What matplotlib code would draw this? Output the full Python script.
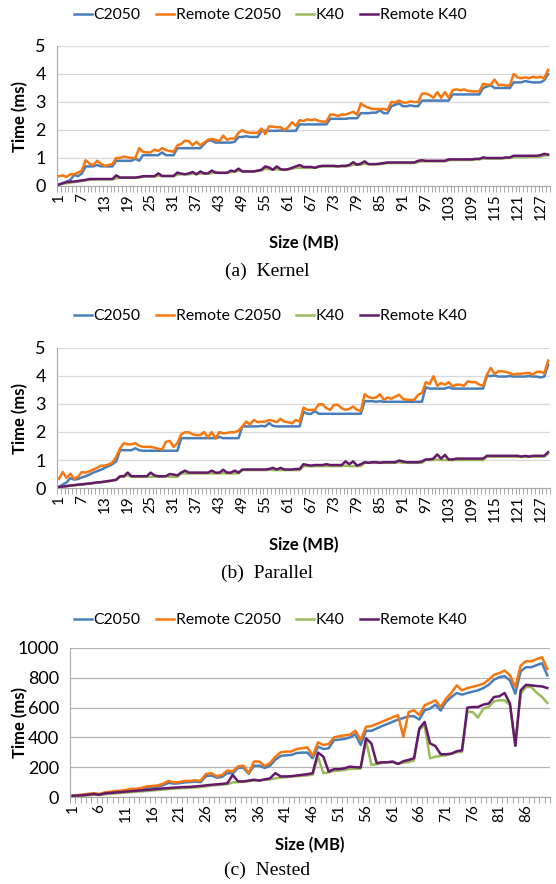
import matplotlib
matplotlib.use('Agg')
import matplotlib.pyplot as plt

plt.rcParams['font.family'] = ['Lato', 'DejaVu Sans']

series_names = ['C2050', 'Remote C2050', 'K40', 'Remote K40']
colors = ['#4A7EBB', '#F7770F', '#9BBB59', '#65196B']

# (a) Kernel, time in ms, sizes 1..129 MB
kernel_sizes = list(range(1, 130))
kernel_c2050 = [
    0.05, 0.1, 0.15, 0.22, 0.4, 0.35, 0.45,
    0.7, 0.7, 0.7, 0.75, 0.7, 0.7, 0.7, 0.7,
    0.9, 0.9, 0.9, 0.9, 0.9, 0.97, 0.9, 1.1,
    1.1, 1.1, 1.1, 1.1, 1.2, 1.1, 1.1, 1.1,
    1.35, 1.35, 1.35, 1.35, 1.35, 1.35, 1.35, 1.5,
    1.62, 1.62, 1.55, 1.55, 1.55, 1.55, 1.55, 1.58,
    1.75, 1.75, 1.78, 1.75, 1.75, 1.75, 1.97, 1.97,
    1.97, 1.97, 1.97, 1.98, 1.97, 1.97, 1.97, 1.97,
    2.2, 2.2, 2.2, 2.2, 2.2, 2.2, 2.2, 2.2,
    2.4, 2.4, 2.4, 2.4, 2.4, 2.42, 2.42, 2.42,
    2.6, 2.6, 2.6, 2.62, 2.62, 2.7, 2.6, 2.6,
    2.85, 2.9, 2.95, 2.85, 2.85, 2.88, 2.85, 2.85,
    3.05, 3.05, 3.05, 3.05, 3.05, 3.05, 3.05, 3.05,
    3.27, 3.27, 3.27, 3.27, 3.27, 3.27, 3.27, 3.27,
    3.5, 3.55, 3.6, 3.5, 3.5, 3.5, 3.5, 3.5,
    3.7, 3.7, 3.7, 3.75, 3.72, 3.7, 3.7, 3.7,
    3.78, 4.0]
kernel_remote_c2050 = [
    0.35, 0.38, 0.32, 0.42, 0.42, 0.48, 0.55,
    0.92, 0.8, 0.75, 0.9, 0.8, 0.72, 0.75, 0.78,
    1.0, 1.0, 1.05, 1.02, 1.0, 1.0, 1.35, 1.22,
    1.2, 1.2, 1.3, 1.25, 1.35, 1.28, 1.25, 1.22,
    1.45, 1.5, 1.62, 1.6, 1.45, 1.58, 1.45, 1.55,
    1.65, 1.68, 1.65, 1.6, 1.8, 1.65, 1.7, 1.7,
    1.9, 2.0, 1.92, 1.9, 1.9, 1.9, 2.05, 1.85,
    2.13, 2.12, 2.1, 2.1, 2.0, 2.1, 2.28, 2.15,
    2.35, 2.32, 2.38, 2.35, 2.38, 2.32, 2.3, 2.3,
    2.55, 2.55, 2.5, 2.55, 2.55, 2.6, 2.65, 2.55,
    2.95, 2.85, 2.8, 2.75, 2.75, 2.75, 2.75, 2.72,
    3.0, 2.98, 3.05, 2.98, 2.98, 3.02, 3.0, 3.0,
    3.3, 3.3, 3.25, 3.15, 3.35, 3.15, 3.35, 3.15,
    3.42, 3.45, 3.42, 3.45, 3.4, 3.38, 3.38, 3.38,
    3.65, 3.62, 3.62, 3.8, 3.6, 3.62, 3.58, 3.6,
    4.0, 3.88, 3.85, 3.88, 3.85, 3.9, 3.87, 3.9,
    3.85, 4.15]
kernel_k40 = [
    0.05, 0.08, 0.1, 0.12, 0.14, 0.16, 0.18,
    0.2, 0.22, 0.23, 0.24, 0.24, 0.24, 0.24, 0.24,
    0.27, 0.3, 0.3, 0.3, 0.3, 0.3, 0.3, 0.33,
    0.34, 0.34, 0.34, 0.36, 0.35, 0.35, 0.35, 0.35,
    0.4, 0.42, 0.42, 0.42, 0.44, 0.42, 0.45, 0.44,
    0.44, 0.46, 0.48, 0.47, 0.47, 0.47, 0.5, 0.5,
    0.55, 0.52, 0.52, 0.52, 0.52, 0.53, 0.55, 0.62,
    0.6, 0.58, 0.6, 0.58, 0.58, 0.6, 0.62, 0.65,
    0.65, 0.65, 0.65, 0.65, 0.65, 0.68, 0.7, 0.7,
    0.7, 0.7, 0.7, 0.7, 0.7, 0.72, 0.76, 0.76,
    0.76, 0.8, 0.78, 0.78, 0.78, 0.78, 0.8, 0.82,
    0.82, 0.82, 0.82, 0.82, 0.82, 0.82, 0.82, 0.86,
    0.88, 0.88, 0.88, 0.88, 0.88, 0.88, 0.88, 0.92,
    0.93, 0.93, 0.93, 0.93, 0.93, 0.93, 0.95, 0.95,
    0.98, 0.98, 0.98, 0.98, 0.98, 0.98, 1.0, 1.0,
    1.03, 1.03, 1.03, 1.03, 1.04, 1.04, 1.04, 1.05,
    1.08, 1.1]
kernel_remote_k40 = [
    0.05, 0.1, 0.14, 0.15, 0.16, 0.18, 0.2,
    0.22, 0.25, 0.25, 0.25, 0.25, 0.25, 0.25, 0.25,
    0.38, 0.3, 0.3, 0.3, 0.3, 0.3, 0.32, 0.35,
    0.35, 0.35, 0.35, 0.45, 0.36, 0.36, 0.36, 0.36,
    0.48, 0.44, 0.42, 0.45, 0.5, 0.42, 0.52, 0.45,
    0.45, 0.55, 0.48, 0.47, 0.47, 0.47, 0.55, 0.52,
    0.62, 0.52, 0.52, 0.52, 0.52, 0.55, 0.58, 0.7,
    0.66, 0.58, 0.7, 0.6, 0.58, 0.6, 0.65, 0.7,
    0.75, 0.68, 0.68, 0.68, 0.65, 0.7, 0.72, 0.72,
    0.72, 0.72, 0.7, 0.72, 0.72, 0.75, 0.85, 0.76,
    0.8, 0.88, 0.78, 0.78, 0.78, 0.8, 0.82, 0.84,
    0.84, 0.84, 0.84, 0.84, 0.84, 0.84, 0.84, 0.9,
    0.92, 0.9, 0.9, 0.9, 0.9, 0.9, 0.9, 0.95,
    0.95, 0.95, 0.95, 0.95, 0.95, 0.95, 0.97, 0.97,
    1.02, 1.0, 1.0, 1.0, 1.0, 1.0, 1.02, 1.02,
    1.08, 1.08, 1.08, 1.08, 1.08, 1.08, 1.08, 1.1,
    1.15, 1.12]

# (b) Parallel, time in ms, sizes 1..129 MB
parallel_sizes = list(range(1, 130))
parallel_c2050 = [
    0.05, 0.12, 0.2, 0.35, 0.3, 0.32, 0.38, 0.42,
    0.48, 0.55, 0.6, 0.65, 0.72, 0.78, 0.85, 0.95,
    1.35, 1.35, 1.35, 1.35, 1.42, 1.35, 1.33, 1.33,
    1.33, 1.33, 1.33, 1.33, 1.33, 1.33, 1.33, 1.33,
    1.78, 1.78, 1.78, 1.78, 1.78, 1.78, 1.78, 1.78,
    1.78, 1.78, 1.82, 1.78, 1.78, 1.78, 1.78, 1.78,
    2.2, 2.2, 2.2, 2.2, 2.2, 2.22, 2.2, 2.32,
    2.22, 2.2, 2.2, 2.2, 2.2, 2.2, 2.2, 2.2,
    2.72, 2.65, 2.65, 2.75, 2.65, 2.65, 2.65, 2.65,
    2.65, 2.65, 2.65, 2.65, 2.65, 2.65, 2.65, 2.65,
    3.1, 3.1, 3.1, 3.08, 3.1, 3.08, 3.08, 3.08,
    3.08, 3.08, 3.08, 3.08, 3.08, 3.08, 3.08, 3.08,
    3.6, 3.55, 3.55, 3.55, 3.55, 3.55, 3.6, 3.55,
    3.55, 3.55, 3.55, 3.55, 3.55, 3.55, 3.55, 3.55,
    4.0, 4.0, 4.02, 3.98, 3.98, 3.98, 4.0, 3.98,
    3.98, 3.98, 3.98, 4.0, 3.98, 3.98, 3.95, 3.98,
    4.4]
parallel_remote_c2050 = [
    0.33, 0.57, 0.36, 0.51, 0.33, 0.4, 0.57, 0.55,
    0.6, 0.66, 0.72, 0.8, 0.8, 0.84, 0.91, 1.11,
    1.41, 1.6, 1.56, 1.56, 1.6, 1.51, 1.47, 1.47,
    1.47, 1.44, 1.4, 1.38, 1.65, 1.68, 1.47, 1.6,
    1.92, 1.99, 1.99, 1.92, 1.89, 1.89, 2.0, 1.8,
    2.0, 1.77, 2.0, 1.95, 1.97, 1.99, 1.99, 2.05,
    2.19, 2.37, 2.27, 2.43, 2.35, 2.37, 2.37, 2.43,
    2.4, 2.35, 2.47, 2.37, 2.35, 2.31, 2.43, 2.37,
    2.87, 2.79, 2.79, 2.79, 2.99, 2.99, 2.85, 2.79,
    2.97, 2.97, 2.85, 2.79, 2.83, 2.91, 2.79, 2.75,
    3.35, 3.25, 3.21, 3.23, 3.35, 3.15, 3.23, 3.19,
    3.26, 3.33, 3.19, 3.15, 3.15, 3.15, 3.33, 3.39,
    3.78, 3.71, 3.99, 3.65, 3.75, 3.69, 3.78, 3.63,
    3.69, 3.69, 3.65, 3.81, 3.78, 3.78, 3.69, 3.65,
    4.05, 4.29, 4.07, 4.17, 4.17, 4.14, 4.1, 4.05,
    4.08, 4.08, 4.1, 4.11, 4.05, 4.15, 4.15, 4.1,
    4.55]
parallel_k40 = [
    0.02, 0.04, 0.06, 0.08, 0.1, 0.11, 0.12, 0.14,
    0.15, 0.17, 0.19, 0.2, 0.22, 0.24, 0.26, 0.28,
    0.4, 0.4, 0.45, 0.4, 0.4, 0.4, 0.4, 0.4,
    0.4, 0.41, 0.4, 0.4, 0.42, 0.4, 0.4, 0.4,
    0.52, 0.52, 0.52, 0.52, 0.52, 0.52, 0.52, 0.52,
    0.52, 0.52, 0.52, 0.53, 0.52, 0.52, 0.52, 0.52,
    0.64, 0.64, 0.64, 0.64, 0.64, 0.64, 0.64, 0.65,
    0.64, 0.64, 0.64, 0.64, 0.64, 0.64, 0.64, 0.64,
    0.78, 0.78, 0.78, 0.78, 0.78, 0.78, 0.78, 0.78,
    0.78, 0.78, 0.78, 0.8, 0.78, 0.78, 0.78, 0.78,
    0.9, 0.9, 0.9, 0.9, 0.9, 0.9, 0.9, 0.9,
    0.9, 0.92, 0.9, 0.9, 0.9, 0.9, 0.9, 0.9,
    1.0, 1.0, 1.0, 1.02, 1.0, 1.0, 1.0, 1.0,
    1.0, 1.0, 1.0, 1.0, 1.0, 1.0, 1.0, 1.0,
    1.12, 1.12, 1.12, 1.12, 1.12, 1.12, 1.12, 1.12,
    1.12, 1.12, 1.12, 1.12, 1.12, 1.12, 1.12, 1.12,
    1.22]
parallel_remote_k40 = [
    0.03, 0.05, 0.07, 0.09, 0.1, 0.12, 0.13, 0.15,
    0.16, 0.18, 0.2, 0.21, 0.23, 0.25, 0.27, 0.3,
    0.42, 0.42, 0.55, 0.42, 0.42, 0.42, 0.42, 0.42,
    0.55, 0.45, 0.42, 0.42, 0.42, 0.5, 0.48, 0.45,
    0.55, 0.62, 0.55, 0.55, 0.55, 0.55, 0.55, 0.55,
    0.62, 0.55, 0.55, 0.65, 0.55, 0.55, 0.62, 0.55,
    0.66, 0.66, 0.66, 0.66, 0.66, 0.66, 0.66, 0.68,
    0.72, 0.66, 0.72, 0.66, 0.66, 0.66, 0.68, 0.68,
    0.85, 0.82, 0.8, 0.82, 0.82, 0.82, 0.85, 0.82,
    0.82, 0.82, 0.82, 0.95, 0.85, 0.95, 0.8, 0.85,
    0.92, 0.9, 0.92, 0.92, 0.9, 0.92, 0.92, 0.92,
    0.92, 0.98, 0.95, 0.92, 0.92, 0.92, 0.92, 0.95,
    1.02, 1.02, 1.05, 1.2, 1.05, 1.18, 1.02, 1.02,
    1.05, 1.05, 1.05, 1.05, 1.05, 1.05, 1.05, 1.05,
    1.15, 1.15, 1.15, 1.15, 1.15, 1.15, 1.15, 1.15,
    1.15, 1.12, 1.15, 1.12, 1.15, 1.15, 1.15, 1.15,
    1.28]

# (c) Nested, time in ms, sizes 1..90 MB
nested_sizes = list(range(1, 91))
nested_c2050 = [
    8, 10, 14, 18, 22, 18, 26, 30, 35, 38,
    43, 48, 50, 55, 63, 66, 70, 80, 95, 90,
    92, 98, 100, 103, 100, 140, 145, 130, 135, 160,
    158, 195, 198, 155, 210, 210, 195, 210, 250, 275,
    280, 282, 295, 298, 298, 260, 338, 322, 327, 382,
    385, 390, 400, 422, 349, 444, 444, 460, 476, 490,
    505, 520, 530, 542, 542, 520, 582, 593, 620, 580,
    638, 671, 698, 687, 698, 707, 716, 731, 753, 787,
    804, 811, 782, 693, 844, 871, 871, 885, 898, 816]
nested_remote_c2050 = [
    10, 13, 17, 22, 25, 20, 30, 35, 40, 42,
    48, 55, 55, 62, 72, 74, 78, 90, 108, 98,
    100, 108, 108, 112, 108, 155, 160, 140, 148, 178,
    172, 205, 210, 160, 238, 238, 208, 228, 270, 300,
    305, 305, 322, 327, 333, 276, 367, 349, 356, 400,
    408, 414, 418, 445, 382, 471, 476, 490, 505, 520,
    535, 549, 404, 570, 582, 549, 616, 631, 649, 604,
    660, 698, 749, 716, 731, 740, 749, 760, 787, 820,
    831, 849, 816, 738, 882, 911, 911, 925, 938, 860]
nested_k40 = [
    7, 8, 10, 12, 15, 14, 18, 21, 24, 27,
    30, 33, 36, 38, 41, 44, 47, 50, 53, 56,
    58, 60, 62, 64, 67, 72, 77, 80, 83, 86,
    98, 100, 102, 106, 110, 112, 115, 118, 125, 130,
    133, 137, 140, 142, 145, 150, 271, 160, 165, 175,
    178, 182, 188, 190, 190, 382, 216, 220, 228, 232,
    233, 222, 230, 235, 245, 453, 480, 260, 270, 276,
    280, 290, 300, 303, 571, 571, 533, 593, 604, 642,
    649, 649, 616, 344, 693, 738, 738, 700, 671, 631]
nested_remote_k40 = [
    8, 10, 12, 16, 20, 15, 24, 27, 30, 33,
    36, 39, 42, 45, 48, 51, 54, 58, 60, 63,
    65, 67, 68, 71, 74, 78, 82, 85, 88, 92,
    148, 105, 104, 110, 116, 110, 118, 125, 160, 138,
    138, 140, 144, 149, 153, 160, 298, 271, 171, 187,
    187, 193, 204, 200, 198, 393, 360, 227, 233, 233,
    238, 222, 240, 249, 260, 460, 504, 360, 342, 287,
    287, 291, 307, 313, 600, 604, 604, 620, 627, 671,
    676, 698, 627, 344, 716, 753, 749, 745, 742, 731]

W, H = 556, 884
fig = plt.figure(figsize=(W / 100, H / 100), dpi=100)


def px_rect(left, top, right, bottom):
    return [left / W, 1 - bottom / H, (right - left) / W, (bottom - top) / H]


def draw_panel(left, top, right, bottom, sizes, series, ymax, ystep, label_step,
               grid_color, legend_y, xlabel_y, caption, caption_y):
    ax = fig.add_axes(px_rect(left, top, right, bottom))
    for vals, c, name in zip(series, colors, series_names):
        ax.plot(sizes, vals, color=c, lw=1.8, label=name, solid_joinstyle='round')
    ax.set_xlim(0.5, len(sizes) + 0.5)
    ax.set_ylim(0, ymax)
    ax.set_yticks([i * ystep for i in range(int(ymax / ystep) + 1)])
    ax.yaxis.grid(True, color=grid_color, lw=0.9)
    ax.set_axisbelow(True)
    ax.set_xticks(sizes[::label_step])
    ax.set_xticklabels([str(s) for s in sizes[::label_step]], rotation=90)
    ax.set_xticks([s + 0.5 for s in [0] + sizes], minor=True)
    ax.tick_params(axis='x', which='major', length=0, labelsize=11, pad=5)
    ax.tick_params(axis='x', which='minor', length=4, color='#A6A6A6', width=0.7)
    ax.tick_params(axis='y', length=0, labelsize=13, pad=8)
    for s in ['top', 'right']:
        ax.spines[s].set_visible(False)
    ax.spines['left'].set_color('#A6A6A6')
    ax.spines['bottom'].set_color('#A6A6A6')
    fig.text(20 / W, 1 - (top + bottom) / 2 / H, 'Time (ms)', rotation=90,
             fontsize=12, fontweight='bold', ha='center', va='center')
    fig.text(((left + right) / 2) / W, 1 - xlabel_y / H, 'Size (MB)',
             fontsize=12, fontweight='bold', ha='center', va='center')
    fig.text(267 / W, 1 - caption_y / H, caption, family='Liberation Serif',
             fontsize=14, ha='center', va='center')
    fig.legend(*ax.get_legend_handles_labels(), loc='center', ncol=4,
               bbox_to_anchor=(270 / W, 1 - legend_y / H), frameon=False,
               fontsize=11.3, handlelength=1.15, handletextpad=0.1,
               columnspacing=1.0, borderpad=0)
    return ax


draw_panel(57, 46, 550, 186, kernel_sizes,
           [kernel_c2050, kernel_remote_c2050, kernel_k40, kernel_remote_k40],
           5, 1, 6, '#D9D9D9', 15, 243, '(a)  Kernel', 271)
draw_panel(57, 348, 550, 488, parallel_sizes,
           [parallel_c2050, parallel_remote_c2050, parallel_k40, parallel_remote_k40],
           5, 1, 6, '#D9D9D9', 316, 545, '(b)  Parallel', 573)
draw_panel(70, 648, 550, 797, nested_sizes,
           [nested_c2050, nested_remote_c2050, nested_k40, nested_remote_k40],
           1000, 200, 5, '#B3B3B3', 620, 845, '(c)  Nested', 870)

fig.savefig('out.png', dpi=100)
